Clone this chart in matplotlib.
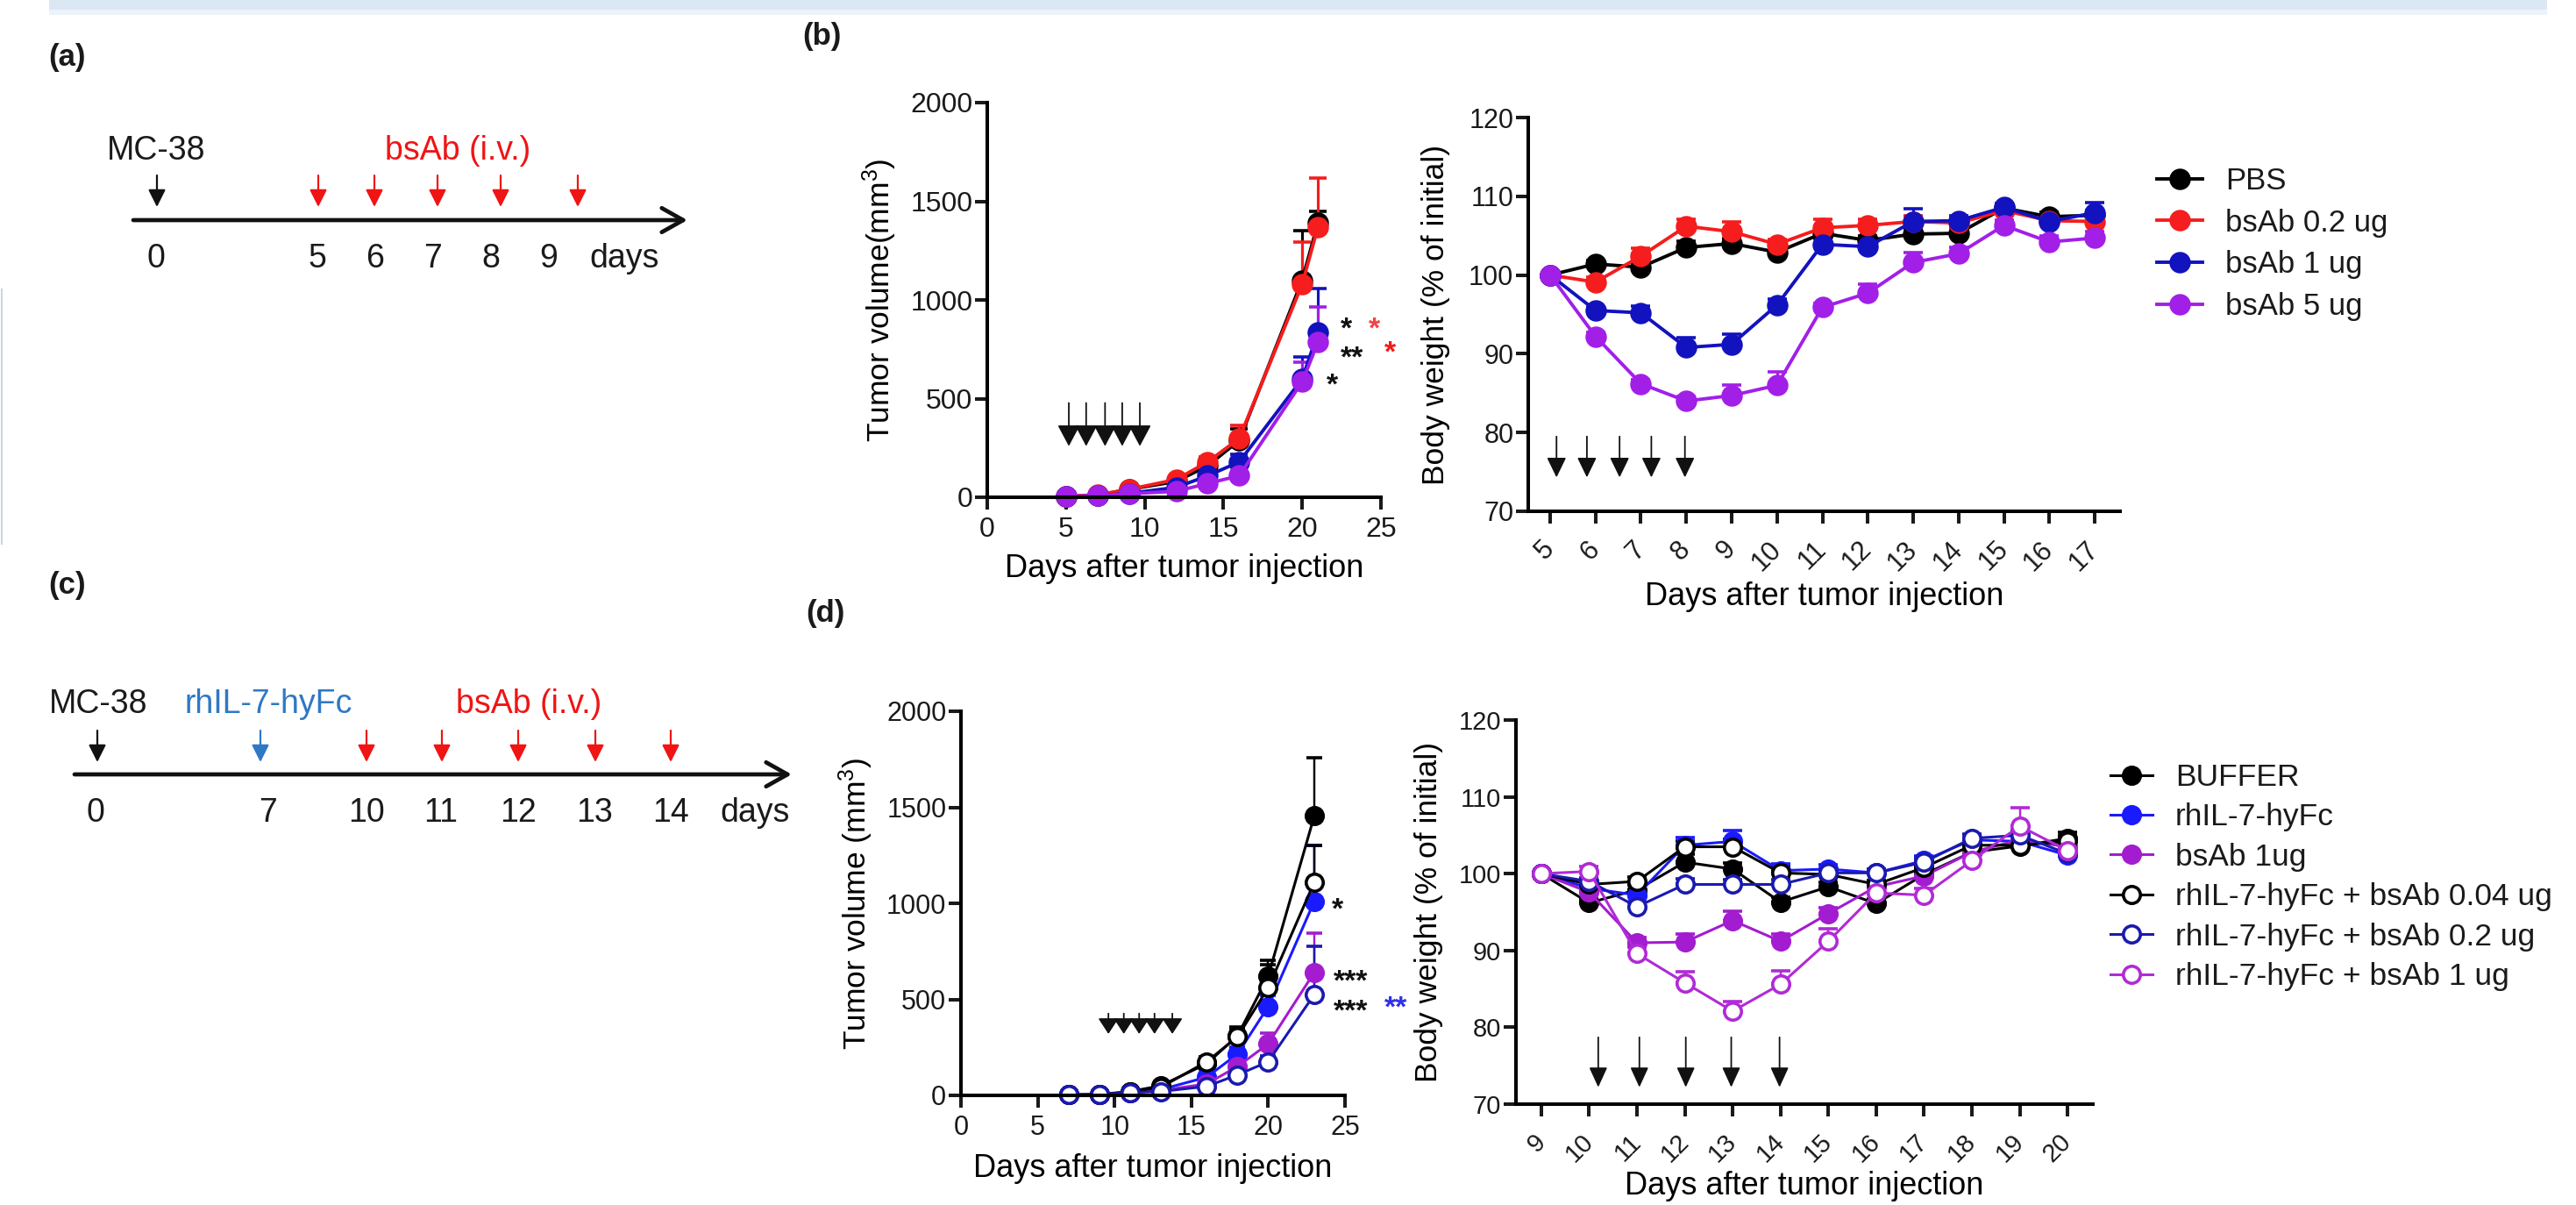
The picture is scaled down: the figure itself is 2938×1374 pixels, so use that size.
import numpy as np
import matplotlib
matplotlib.use('Agg')
import matplotlib.pyplot as plt
from matplotlib.patches import Rectangle

plt.rcParams['font.family'] = ['Liberation Sans', 'DejaVu Sans']
plt.rcParams['mathtext.default'] = 'regular'
plt.rcParams['text.color'] = '#1a1a1a'

# ---------------- data ----------------
# (a) schedule
a_labels = ['0', '5', '6', '7', '8', '9', 'days']
# (c) schedule
c_labels = ['0', '7', '10', '11', '12', '13', '14', 'days']

# (b) tumour volume
b_vol_days = [5, 7, 9, 12, 14, 16, 20, 21]
b_names = ['PBS', 'bsAb 0.2 ug', 'bsAb 1 ug', 'bsAb 5 ug']
b_vol_pbs = [5, 10, 40, 80, 160, 288, 1100, 1390]
b_vol_02 = [5, 12, 40, 90, 179, 298, 1080, 1370]
b_vol_1 = [3, 8, 20, 50, 109, 179, 600, 835]
b_vol_5 = [3, 8, 18, 30, 70, 109, 585, 785]
b_vol_err_pbs = [2, 4, 8, 15, 20, 60, 250, 60]
b_vol_err_02 = [2, 4, 10, 15, 25, 65, 215, 250]
b_vol_err_1 = [2, 3, 6, 10, 20, 40, 110, 225]
b_vol_err_5 = [2, 3, 5, 8, 15, 25, 100, 180]
b_vol_arrow_days = [5.18, 6.28, 7.48, 8.57, 9.69]

# (b) body weight
b_bw_days = [5, 6, 7, 8, 9, 10, 11, 12, 13, 14, 15, 16, 17]
b_bw_pbs = [100, 101.4, 101.0, 103.5, 104.0, 102.9, 105.3, 104.4, 105.2, 105.3, 108.5, 107.4, 107.6]
b_bw_02 = [100, 99.1, 102.4, 106.2, 105.5, 103.9, 106.0, 106.3, 106.8, 106.6, 108.2, 106.9, 106.8]
b_bw_1 = [100, 95.5, 95.2, 90.8, 91.2, 96.2, 103.9, 103.6, 106.8, 106.9, 108.6, 106.8, 107.9]
b_bw_5 = [100, 92.2, 86.2, 84.0, 84.7, 86.0, 95.9, 97.7, 101.6, 102.7, 106.3, 104.2, 104.7]
b_bw_err_pbs = [0, 0.4, 0.5, 0.8, 0.6, 0.5, 0.5, 0.6, 0.7, 0.8, 0.5, 0.6, 0.6]
b_bw_err_02 = [0, 0.6, 1.0, 0.9, 1.2, 0.6, 1.1, 0.8, 0.7, 0.6, 0.5, 0.5, 0.6]
b_bw_err_1 = [0, 0.5, 0.9, 1.2, 1.3, 0.8, 0.7, 1.0, 1.6, 0.6, 0.5, 0.6, 1.3]
b_bw_err_5 = [0, 0.5, 0.5, 0.6, 1.3, 1.7, 0.5, 1.1, 1.2, 0.8, 0.7, 0.8, 0.8]
b_bw_arrow_days = [5.14, 5.81, 6.53, 7.23, 7.97]

# (d) tumour volume
d_vol_days = [7, 9, 11, 13, 16, 18, 20, 23]
d_names = ['BUFFER', 'rhIL-7-hyFc', 'bsAb 1ug', 'rhIL-7-hyFc + bsAb 0.04 ug',
           'rhIL-7-hyFc + bsAb 0.2 ug', 'rhIL-7-hyFc + bsAb 1 ug']
d_vol_buffer = [3, 5, 20, 50, 165, 310, 620, 1455]
d_vol_il7 = [3, 4, 15, 30, 95, 215, 462, 1010]
d_vol_bs1 = [3, 4, 15, 25, 60, 150, 268, 640]
d_vol_c004 = [3, 4, 18, 42, 175, 305, 560, 1110]
d_vol_c02 = [3, 3, 15, 20, 47, 107, 175, 525]
d_vol_err_buffer = [2, 3, 5, 10, 25, 45, 85, 305]
d_vol_err_il7 = [2, 3, 4, 8, 20, 35, 60, 290]
d_vol_err_bs1 = [2, 3, 4, 6, 12, 25, 55, 205]
d_vol_err_c004 = [2, 3, 5, 10, 25, 40, 120, 190]
d_vol_err_c02 = [2, 2, 4, 5, 10, 18, 30, 250]
d_vol_arrow_days = [9.6, 10.6, 11.6, 12.6, 13.76]

# (d) body weight
d_bw_days = [9, 10, 11, 12, 13, 14, 15, 16, 17, 18, 19, 20]
d_bw_buffer = [100, 96.2, 97.9, 101.5, 100.6, 96.3, 98.3, 96.1, 99.9, 102.8, 103.6, 104.6]
d_bw_il7 = [100, 98.1, 97.2, 103.7, 104.2, 100.4, 100.6, 100.1, 101.7, 104.4, 104.2, 102.4]
d_bw_bs1 = [100, 97.6, 91.0, 91.1, 93.9, 91.2, 94.8, 98.3, 99.7, 102.8, 104.4, 103.5]
d_bw_c004 = [100, 98.6, 99.0, 103.5, 103.5, 100.1, 99.9, 98.6, 100.8, 103.7, 103.7, 104.2]
d_bw_c02 = [100, 99.0, 95.7, 98.6, 98.6, 98.6, 100.1, 100.1, 101.5, 104.6, 105.0, 102.6]
d_bw_c1 = [100, 100.3, 89.6, 85.8, 82.1, 85.6, 91.2, 97.5, 97.2, 101.7, 106.2, 103.0]
d_bw_err_buffer = [0, 0.5, 0.6, 1.0, 0.8, 0.6, 0.6, 0.6, 0.7, 0.6, 0.6, 0.8]
d_bw_err_il7 = [0, 0.6, 0.7, 1.0, 1.4, 0.9, 0.6, 0.5, 0.6, 0.6, 0.6, 0.6]
d_bw_err_bs1 = [0, 0.5, 0.7, 1.0, 1.2, 1.0, 0.8, 0.6, 0.7, 0.6, 0.7, 0.7]
d_bw_err_c004 = [0, 0.5, 0.6, 0.8, 1.0, 0.8, 0.6, 0.5, 0.6, 0.6, 0.6, 0.7]
d_bw_err_c02 = [0, 0.5, 0.6, 0.7, 0.6, 0.6, 0.5, 0.5, 0.6, 0.6, 0.6, 0.6]
d_bw_err_c1 = [0, 0.6, 0.8, 1.4, 1.2, 1.8, 1.6, 1.0, 0.9, 0.8, 2.4, 1.5]
d_bw_arrow_days = [10.19, 11.05, 12.02, 12.97, 13.98]

# ---------------- layout (pixels of the 2938x1374 canvas) ----------------
W, H = 2938, 1374
RED, BLUE_T = '#f01414', '#2f78c4'
b_cols = ['#000000', '#f51d1d', '#1212bf', '#a21fe8']
d_cols = ['#000000', '#1a1aff', '#a31ccf', '#000000', '#1a1aae', '#b12ad6']
d_filled = [True, True, True, False, False, False]

fig = plt.figure(figsize=(W / 100, H / 100), dpi=100)


def rect(x0, y0, x1, y1):
    return [x0 / W, 1 - y1 / H, (x1 - x0) / W, (y1 - y0) / H]


ov = fig.add_axes([0, 0, 1, 1], zorder=-1)
ov.set_xlim(0, W)
ov.set_ylim(H, 0)
ov.axis('off')

# top band and faint left edge line of the page
ov.add_patch(Rectangle((56, 0), 2849, 11, color='#dce7f4', lw=0))
ov.add_patch(Rectangle((56, 11), 2849, 6, color='#eef3fa', lw=0))
ov.plot([2, 2], [330, 620], color='#c9d5e5', lw=1.5)

for s, x, y in [('(a)', 77, 65), ('(b)', 937, 41), ('(c)', 77, 668), ('(d)', 941, 700)]:
    ov.text(x, y, s, fontsize=25, fontweight='bold', ha='center', va='center')


def tl_arrow(x, y0, y1, col):
    ov.annotate('', xy=(x, y1), xytext=(x, y0),
                arrowprops=dict(arrowstyle='-|>,head_length=0.6,head_width=0.3', color=col,
                                lw=1.6, mutation_scale=20, shrinkA=0, shrinkB=0))


def timeline(line_y, x0, x1, tick_x, labels, lab_y, arr_y, arrows, texts):
    ov.annotate('', xy=(x1, line_y), xytext=(x0, line_y),
                arrowprops=dict(arrowstyle='->,head_length=0.8,head_width=0.45', color='#111111',
                                lw=3.4, mutation_scale=22, shrinkA=0, shrinkB=0))
    for x, s in zip(tick_x, labels):
        ov.text(x, lab_y, s, fontsize=27, ha='center', va='center')
    for x, col in arrows:
        tl_arrow(x, arr_y[0], arr_y[1], col)
    for s, x, y, col in texts:
        ov.text(x, y, s, fontsize=27, ha='center', va='center', color=col)


timeline(251, 152, 784, [178, 362, 428, 494, 560, 626, 712], a_labels, 295, (200, 236),
         [(179, '#111111')] + [(x, RED) for x in [363, 427, 499, 571, 659]],
         [('MC-38', 178, 172, '#1a1a1a'), ('bsAb (i.v.)', 522, 172, RED)])
timeline(883, 85, 903, [109, 306, 418, 503, 591, 678, 765, 861], c_labels, 927, (833, 869),
         [(111, '#111111'), (297, BLUE_T)] + [(x, RED) for x in [418, 504, 591, 679, 765]],
         [('MC-38', 112, 803, '#1a1a1a'), ('rhIL-7-hyFc', 306, 803, BLUE_T),
          ('bsAb (i.v.)', 603, 803, RED)])


def make_ax(px, xlim, ylim, xticks, yticks, fs, xlabel, ylabel, xlab_y, ylab_x, rotate):
    x0, y0, x1, y1 = px
    ax = fig.add_axes(rect(*px))
    ax.set_facecolor('none')
    ax.set_xlim(*xlim)
    ax.set_ylim(*ylim)
    ax.set_xticks(xticks)
    ax.set_yticks(yticks)
    for sp in ['top', 'right']:
        ax.spines[sp].set_visible(False)
    for sp in ['left', 'bottom']:
        ax.spines[sp].set_linewidth(2.9)
    ax.tick_params(direction='out', length=10, width=2.9, labelsize=fs, colors='#1a1a1a')
    ax.tick_params(axis='y', pad=2)
    if rotate:
        ax.tick_params(axis='x', pad=18)
        plt.setp(ax.get_xticklabels(), rotation=45, ha='right', va='center', rotation_mode='anchor')
    else:
        ax.tick_params(axis='x', pad=6)
    ax.set_xlabel(xlabel, fontsize=26, va='center')
    ax.set_ylabel(ylabel, fontsize=25.5, va='center')
    ax.xaxis.set_label_coords(0.5, (y1 - xlab_y) / (y1 - y0))
    ax.yaxis.set_label_coords((ylab_x - x0) / (x1 - x0), 0.5)
    return ax


def series(ax, x, y, err, col, filled, ms, lw, cap):
    eb = ax.errorbar(x, y, yerr=[np.zeros(len(err)), err], fmt='-o', color=col, lw=lw, ms=ms,
                     mfc=col if filled else 'white', mec=col, mew=2.6, ecolor=col,
                     elinewidth=lw * 0.8, capsize=cap, capthick=lw * 0.9)
    eb[0].set_clip_on(False)
    for art in list(eb[1]) + list(eb[2]):
        art.set_clip_on(False)
    return eb[0]


def dose_arrows(ax, days, top, tip, hl, hw):
    for d in days:
        ax.annotate('', xy=(d, tip), xytext=(d, top), annotation_clip=False,
                    arrowprops=dict(arrowstyle=f'-|>,head_length={hl},head_width={hw}', color='#111111',
                                    lw=1.3, mutation_scale=20, shrinkA=0, shrinkB=0))


def stars(ax, items):
    # significance marks; (x, y) is where the first row of asterisks is centred
    for s, x, y, col, ha in items:
        ax.annotate(s, xy=(x, y), xytext=(0, 4), textcoords='offset points', ha=ha, va='top',
                    multialignment='left', linespacing=1.1, fontsize=24.5, fontweight='bold',
                    color=col, annotation_clip=False)


# ---- (b) tumour volume ----
axb1 = make_ax((1126, 117, 1575, 567), (0, 25), (0, 2000), range(0, 26, 5), range(0, 2001, 500),
               23, 'Days after tumor injection', 'Tumor volume(mm$^3$)', 649, 1003, False)
for yv, ev, col in zip([b_vol_pbs, b_vol_02, b_vol_1, b_vol_5],
                       [b_vol_err_pbs, b_vol_err_02, b_vol_err_1, b_vol_err_5], b_cols):
    series(axb1, b_vol_days, yv, ev, col, True, 15, 2.8, 7)
dose_arrows(axb1, b_vol_arrow_days, 478, 259, 0.75, 0.4)
stars(axb1, [('*\n**', 22.45, 893, '#111111', 'left'), ('*', 24.6, 893, '#f04545', 'center'),
             ('*', 25.6, 773, '#f01c1c', 'center'), ('*', 21.9, 609, '#111111', 'center')])

# ---- (b) body weight ----
axb2 = make_ax((1743, 134, 2418, 583), (4.517, 17.56), (70, 120), b_bw_days, range(70, 121, 10),
               22, 'Days after tumor injection', 'Body weight (% of initial)', 680, 1637, True)
b_handles = []
for yv, ev, col in zip([b_bw_pbs, b_bw_02, b_bw_1, b_bw_5],
                       [b_bw_err_pbs, b_bw_err_02, b_bw_err_1, b_bw_err_5], b_cols):
    b_handles.append(series(axb2, b_bw_days, yv, ev, col, True, 15, 2.8, 8))
dose_arrows(axb2, b_bw_arrow_days, 79.5, 74.3, 0.7, 0.34)
fig.legend(b_handles, b_names, loc='upper left', bbox_to_anchor=(2460 / W, 1 - 190 / H),
           frameon=False, fontsize=25, handlelength=1.5, handletextpad=0.75, labelspacing=0.42,
           borderpad=0, borderaxespad=0)

# ---- (d) tumour volume ----
axd1 = make_ax((1096, 811, 1534, 1249), (0, 25), (0, 2000), range(0, 26, 5), range(0, 2001, 500),
               22, 'Days after tumor injection', 'Tumor volume (mm$^3$)', 1332, 976, False)
d_vol = [d_vol_buffer, d_vol_il7, d_vol_bs1, d_vol_c004, d_vol_c02]
d_vol_err = [d_vol_err_buffer, d_vol_err_il7, d_vol_err_bs1, d_vol_err_c004, d_vol_err_c02]
for yv, ev, col, fil in zip(d_vol, d_vol_err, d_cols, d_filled):
    series(axd1, d_vol_days, yv, ev, col, fil, 14, 2.2, 6.5)
dose_arrows(axd1, d_vol_arrow_days, 426, 320, 0.55, 0.36)
stars(axd1, [('*', 24.54, 1009, '#111111', 'center'), ('***\n***', 25.4, 632, '#111111', 'center'),
             ('**', 28.3, 498, '#3030e8', 'center')])

# ---- (d) body weight ----
axd2 = make_ax((1729, 821, 2387, 1259), (8.47, 20.53), (70, 120), d_bw_days, range(70, 121, 10),
               21, 'Days after tumor injection', 'Body weight (% of initial)', 1353, 1629, True)
d_bw = [d_bw_buffer, d_bw_il7, d_bw_bs1, d_bw_c004, d_bw_c02, d_bw_c1]
d_bw_err = [d_bw_err_buffer, d_bw_err_il7, d_bw_err_bs1, d_bw_err_c004, d_bw_err_c02, d_bw_err_c1]
d_handles = []
for yv, ev, col, fil in zip(d_bw, d_bw_err, d_cols, d_filled):
    d_handles.append(series(axd2, d_bw_days, yv, ev, col, fil, 14, 2.2, 8))
dose_arrows(axd2, d_bw_arrow_days, 78.7, 72.2, 0.7, 0.32)
fig.legend(d_handles, d_names, loc='upper left', bbox_to_anchor=(2407 / W, 1 - 870 / H),
           frameon=False, fontsize=25.5, handlelength=1.36, handletextpad=0.73, labelspacing=0.35,
           borderpad=0, borderaxespad=0)

fig.savefig('out.png', dpi=100)
